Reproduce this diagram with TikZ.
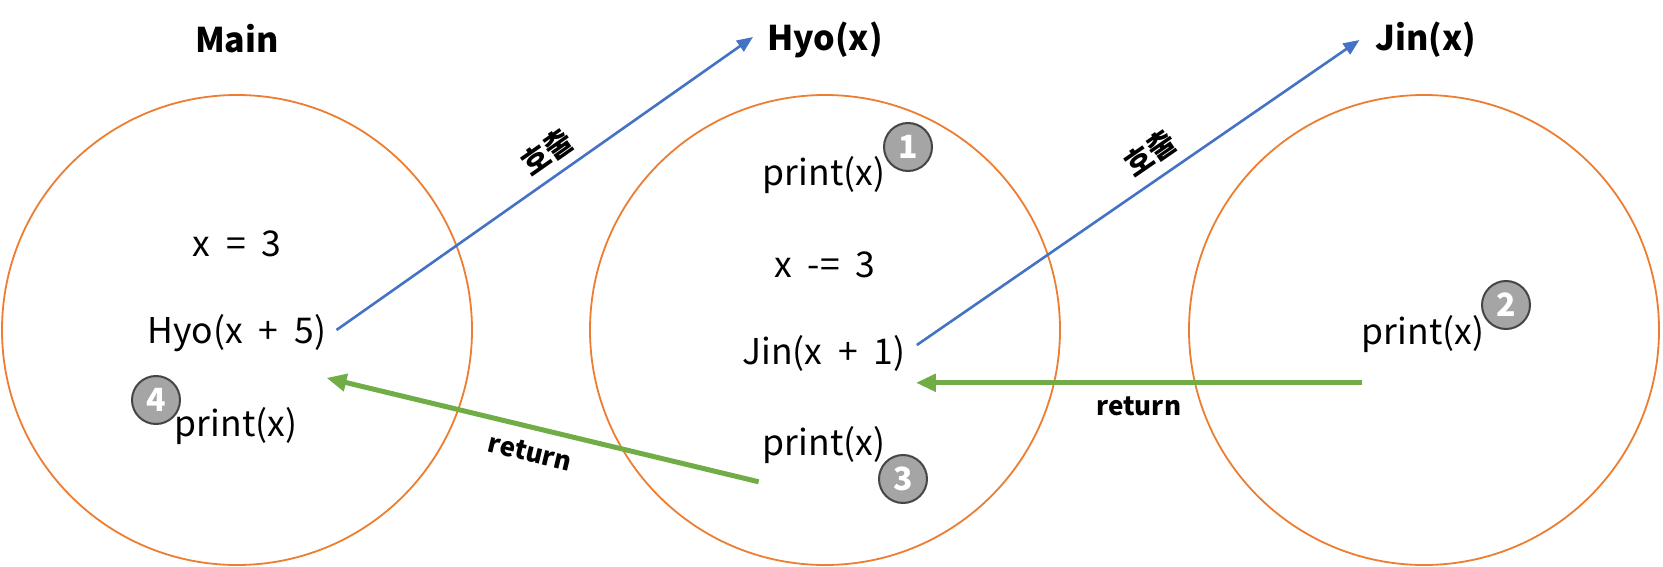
\documentclass[tikz,border=0pt]{standalone}
\usepackage{fontspec}
\setmainfont{Noto Sans CJK KR}
\usetikzlibrary{arrows.meta}
\definecolor{orng}{HTML}{ED7D31}
\definecolor{blu}{HTML}{4472C4}
\definecolor{grn}{HTML}{70AD47}
\definecolor{gry}{HTML}{A5A5A5}
\definecolor{dgry}{HTML}{454545}
\begin{document}
\begin{tikzpicture}[x=1pt,y=-1pt,
  ring/.style={circle, draw=orng, line width=1.8pt, minimum size=470pt, inner sep=0pt},
  title/.style={font=\fontsize{34}{40}\selectfont\bfseries, inner sep=0pt},
  code/.style={font=\fontsize{35.5}{42}\selectfont, inner sep=0pt},
  badge/.style={circle, fill=gry, draw=dgry, line width=2pt, minimum size=48pt, inner sep=0pt, text=white, font=\fontsize{32}{34}\selectfont\bfseries},
  call/.style={draw=blu, line width=2.6pt, -{Triangle[length=16pt,width=13pt]}},
  ret/.style={draw=grn, line width=5pt, -{Triangle[length=20pt,width=17pt]}},
  lbl/.style={font=\fontsize{26}{30}\selectfont\bfseries, inner sep=0pt},
  klbl/.style={font=\fontsize{30}{34}\selectfont\bfseries, inner sep=0pt}
]
\useasboundingbox (0,0) rectangle (1663,567);
% rings
\node[ring] (ringmain) at (237,330) {};
\node[ring] (ringhyo) at (825,330) {};
\node[ring] (ringjin) at (1424,330) {};
% titles
\node[title] (tmain) at (237,39) {Main};
\node[title] (thyo) at (825,40) {Hyo(x)};
\node[title] (tjin) at (1426,40) {Jin(x)};
% main
\node[code] (mx) at (237,244) {x\ \ =\ \ 3};
\node[code] (mh) at (237,333) {Hyo(x\ \ +\ \ 5)};
\node[code] (mp) at (236,426) {print(x)};
\node[badge] (b4) at (156,400) {4};
% hyo
\node[code] (hp1) at (824,175) {print(x)};
\node[badge] (b1) at (908,147) {1};
\node[code] (hx) at (825,265) {x\ \ -=\ \ 3};
\node[code] (hj) at (824,353) {Jin(x\ \ +\ \ 1)};
\node[code] (hp3) at (824,445) {print(x)};
\node[badge] (b3) at (903,479) {3};
% jin
\node[code] (jp) at (1423,334) {print(x)};
\node[badge] (b2) at (1506,305) {2};
% calls
\draw[call] ([xshift=10pt,yshift=3pt]mh.east) -- ([xshift=-14pt,yshift=3pt]thyo.west) node[klbl, pos=0.54, above=9pt, sloped] (k1) {호출};
\draw[call] ([xshift=11pt,yshift=8pt]hj.east) -- ([xshift=-16pt,yshift=0pt]tjin.west) node[klbl, pos=0.56, above=10pt, sloped] (k2) {호출};
% returns
\coordinate (r1s) at ([xshift=-4pt,yshift=-18pt]hp3.south west);
\draw[ret] (r1s) -- ([yshift=-26pt]mh.south east) node[lbl, pos=0.515, below=13pt, sloped] (rl1) {return};
\coordinate (r2s) at ([xshift=0pt,yshift=-30pt]jp.south west);
\draw[ret] (r2s) -- ([xshift=10pt]r2s -| hj.east) node[lbl, pos=0.5, below=11pt] (rl2) {return};
\end{tikzpicture}
\end{document}
